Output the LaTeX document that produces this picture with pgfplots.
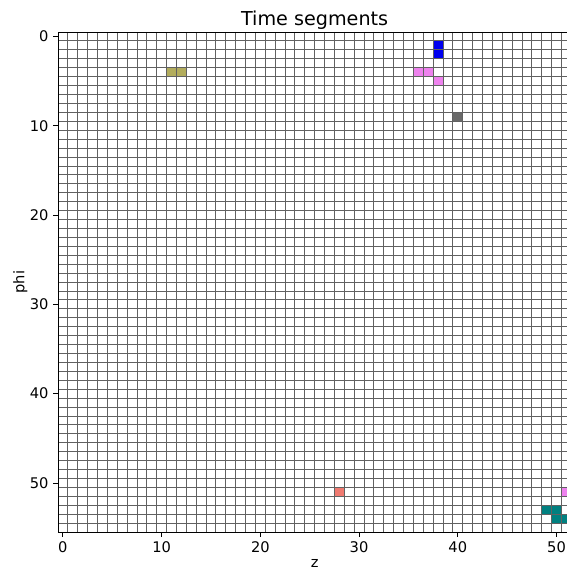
\documentclass[border=0pt]{standalone}
\usepackage{pgfplots}
\pgfplotsset{compat=1.18}
\usepackage{fontspec}
\setmainfont{DejaVu Sans}
\definecolor{colive}{RGB}{178,172,92}
\definecolor{cblue}{RGB}{0,0,240}
\definecolor{cviolet}{RGB}{238,130,238}
\definecolor{cgray}{RGB}{105,105,105}
\definecolor{csalmon}{RGB}{240,122,112}
\definecolor{cteal}{RGB}{0,128,128}
\begin{document}
\begin{tikzpicture}
\begin{axis}[
  scale only axis, width=385.5pt, height=375.5pt,
  xmin=-0.5, xmax=51.5, ymin=-0.5, ymax=55.5, y dir=reverse,
  xtick={0,10,...,50}, ytick={0,10,...,50},
  minor xtick={-0.5,0.5,...,51.5}, minor ytick={-0.5,0.5,...,55.5},
  minor tick length=0pt,
  grid=minor, minor grid style={black!62, line width=0.6pt},
  major grid style={draw=none},
  tick align=outside, tick pos=left, major tick length=3.6pt,
  tick style={black, line width=0.6pt},
  axis on top,
  axis line style={black, line width=0.6pt},
  /pgf/number format/assume math mode=true,
  ticklabel style={font=\fontsize{11}{13}\selectfont},
  label style={font=\fontsize{11}{13}\selectfont},
  ylabel style={yshift=-5pt},
  xlabel style={yshift=2pt},
  title style={font=\fontsize{14.4}{16}\selectfont, at={(0.5,1)}, anchor=base, yshift=-1.5pt},
  title={Time segments}, xlabel={z}, ylabel={phi},
]
\addplot[fill=colive, draw=none] coordinates {(10.5,3.5) (12.5,3.5) (12.5,4.5) (10.5,4.5)} -- cycle;
\addplot[fill=cblue, draw=none] coordinates {(37.5,0.5) (38.5,0.5) (38.5,2.5) (37.5,2.5)} -- cycle;
\addplot[fill=cviolet, draw=none] coordinates {(35.5,3.5) (37.5,3.5) (37.5,4.5) (35.5,4.5)} -- cycle;
\addplot[fill=cviolet, draw=none] coordinates {(37.5,4.5) (38.5,4.5) (38.5,5.5) (37.5,5.5)} -- cycle;
\addplot[fill=cviolet, draw=none] coordinates {(50.5,50.5) (51.5,50.5) (51.5,51.5) (50.5,51.5)} -- cycle;
\addplot[fill=cgray, draw=none] coordinates {(39.5,8.5) (40.5,8.5) (40.5,9.5) (39.5,9.5)} -- cycle;
\addplot[fill=csalmon, draw=none] coordinates {(27.5,50.5) (28.5,50.5) (28.5,51.5) (27.5,51.5)} -- cycle;
\addplot[fill=cteal, draw=none] coordinates {(48.5,52.5) (50.5,52.5) (50.5,53.5) (48.5,53.5)} -- cycle;
\addplot[fill=cteal, draw=none] coordinates {(49.5,53.5) (51.5,53.5) (51.5,54.5) (49.5,54.5)} -- cycle;
\end{axis}
\pgfresetboundingbox
\path[use as bounding box] ([shift={(-43.5pt,-29.25pt)}]current axis.south west) rectangle ([shift={(381.75pt,24pt)}]current axis.north west);
\end{tikzpicture}
\end{document}
